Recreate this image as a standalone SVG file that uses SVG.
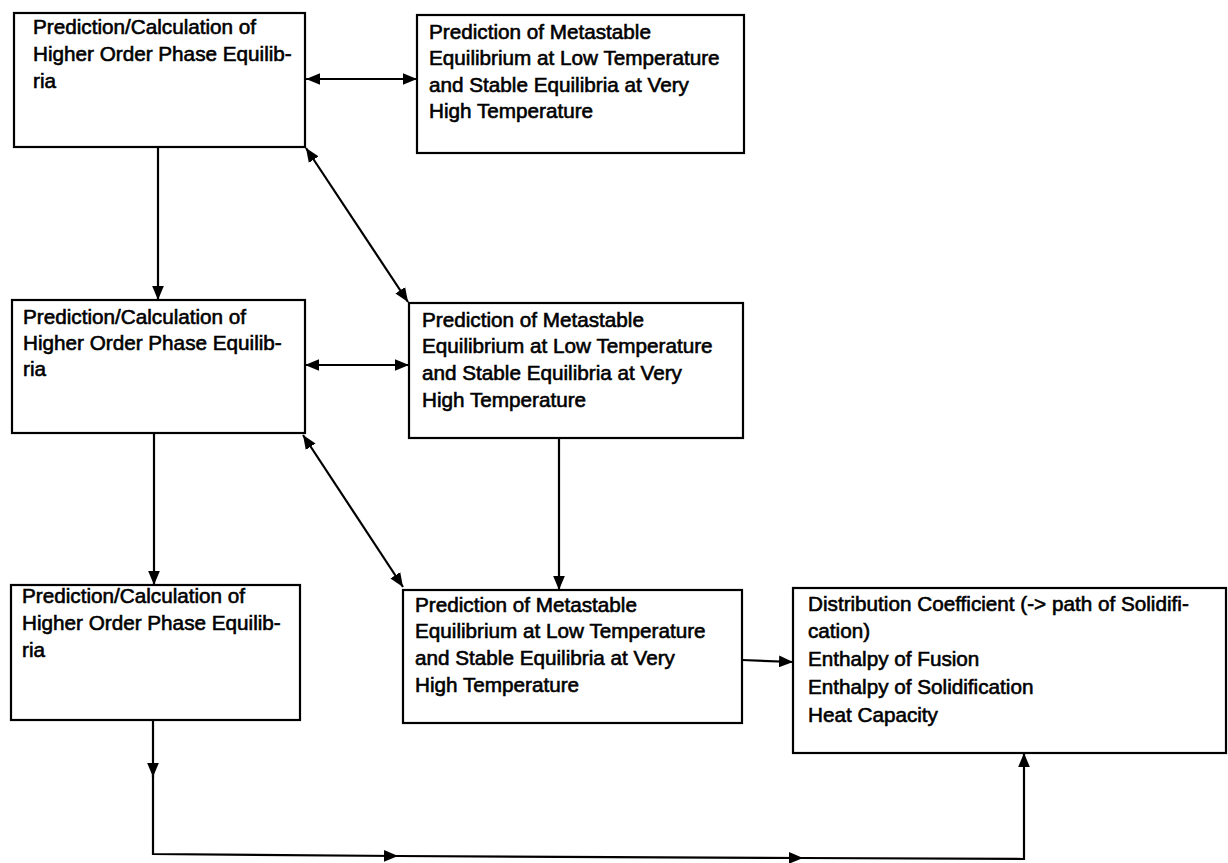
<svg xmlns="http://www.w3.org/2000/svg" width="1228" height="863" viewBox="0 0 1228 863">
<style>
.box{fill:#fff;stroke:#000;stroke-width:2.2}
.t{font-family:"Liberation Sans",Arial,Helvetica,sans-serif;font-size:20.7px;fill:#000;stroke:#000;stroke-width:0.6}
.c{fill:none;stroke:#000;stroke-width:2.2}
</style>
<defs>
<marker id="ah" viewBox="0 0 12 10" refX="12" refY="5" markerUnits="userSpaceOnUse" markerWidth="14" markerHeight="12" orient="auto-start-reverse">
<path d="M0,0 L12,5 L0,10 z" fill="#000"/>
</marker>
</defs>
<rect width="1228" height="863" fill="#fff"/>
<g id="connectors">
<path class="c" d="M306,79 L417,79" marker-start="url(#ah)" marker-end="url(#ah)"/>
<path class="c" d="M306,148 L408,302" marker-start="url(#ah)" marker-end="url(#ah)"/>
<path class="c" d="M158,147 L158,300" marker-end="url(#ah)"/>
<path class="c" d="M305,365 L409,365" marker-start="url(#ah)" marker-end="url(#ah)"/>
<path class="c" d="M303,435 L403,587" marker-start="url(#ah)" marker-end="url(#ah)"/>
<path class="c" d="M154,433 L154,585" marker-end="url(#ah)"/>
<path class="c" d="M559,438 L559,590" marker-end="url(#ah)"/>
<path class="c" d="M742,660 L793,662" marker-end="url(#ah)"/>
<path class="c" d="M153,720 L153,777" marker-end="url(#ah)"/>
<path class="c" d="M153,775 L153,854 L398,856" marker-end="url(#ah)"/>
<path class="c" d="M396,856 L803,858" marker-end="url(#ah)"/>
<path class="c" d="M801,858 L1024,859 L1024,753" marker-end="url(#ah)"/>
</g>
<g id="n1">
<rect class="box" x="14" y="13" width="291" height="134"/>
<text class="t"><tspan x="33" y="34">Prediction/Calculation of</tspan><tspan x="33" y="61">Higher Order Phase Equilib-</tspan><tspan x="33" y="88">ria</tspan></text>
</g>
<g id="n2">
<rect class="box" x="417" y="15" width="327" height="138"/>
<text class="t"><tspan x="429" y="39">Prediction of Metastable</tspan><tspan x="429" y="65">Equilibrium at Low Temperature</tspan><tspan x="429" y="92">and Stable Equilibria at Very</tspan><tspan x="429" y="118">High Temperature</tspan></text>
</g>
<g id="n3">
<rect class="box" x="12" y="300" width="293" height="133"/>
<text class="t"><tspan x="23" y="324">Prediction/Calculation of</tspan><tspan x="23" y="350">Higher Order Phase Equilib-</tspan><tspan x="23" y="376">ria</tspan></text>
</g>
<g id="n4">
<rect class="box" x="409" y="303" width="334" height="135"/>
<text class="t"><tspan x="422" y="327">Prediction of Metastable</tspan><tspan x="422" y="353">Equilibrium at Low Temperature</tspan><tspan x="422" y="380">and Stable Equilibria at Very</tspan><tspan x="422" y="407">High Temperature</tspan></text>
</g>
<g id="n5">
<rect class="box" x="11" y="585" width="289" height="135"/>
<text class="t"><tspan x="22" y="603">Prediction/Calculation of</tspan><tspan x="22" y="630">Higher Order Phase Equilib-</tspan><tspan x="22" y="657">ria</tspan></text>
</g>
<g id="n6">
<rect class="box" x="403" y="590" width="339" height="133"/>
<text class="t"><tspan x="415" y="612">Prediction of Metastable</tspan><tspan x="415" y="638">Equilibrium at Low Temperature</tspan><tspan x="415" y="665">and Stable Equilibria at Very</tspan><tspan x="415" y="692">High Temperature</tspan></text>
</g>
<g id="n7">
<rect class="box" x="793" y="588" width="433" height="165"/>
<text class="t"><tspan x="808" y="611">Distribution Coefficient (-&gt; path of Solidifi-</tspan><tspan x="808" y="638">cation)</tspan><tspan x="808" y="666">Enthalpy of Fusion</tspan><tspan x="808" y="694">Enthalpy of Solidification</tspan><tspan x="808" y="722">Heat Capacity</tspan></text>
</g>
</svg>
